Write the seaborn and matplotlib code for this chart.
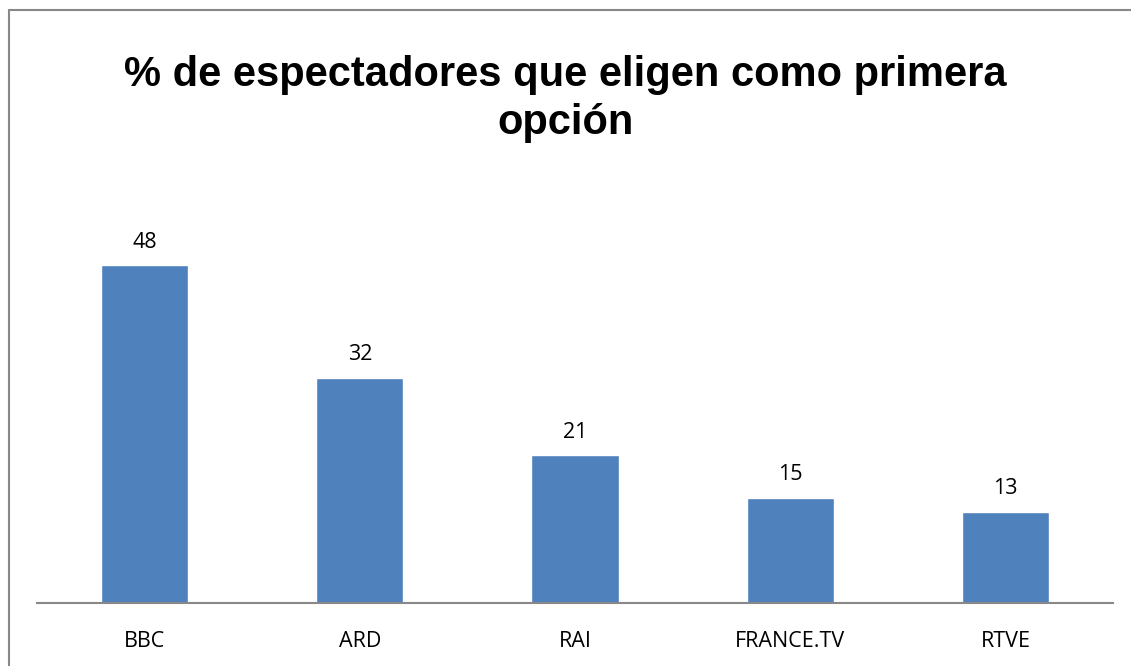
import matplotlib
matplotlib.use("Agg")
import matplotlib.pyplot as plt
import seaborn as sns
import pandas as pd
from matplotlib.lines import Line2D

categories = ["BBC", "ARD", "RAI", "FRANCE.TV", "RTVE"]
values = [48, 32, 21, 15, 13]
title = "% de espectadores que eligen como primera\nopción"

sns.set_theme(style="white")
plt.rcParams['font.family'] = ['Open Sans', 'DejaVu Sans']

df = pd.DataFrame({"canal": categories, "pct": values})

W, H = 1131, 666
fig = plt.figure(figsize=(W / 100, H / 100), dpi=100)
ax = fig.add_axes([37 / W, (H - 603) / H, (1113 - 37) / W, (603 - 181) / H])

sns.barplot(data=df, x="canal", y="pct", color="#4F81BD", saturation=1,
            width=0.405, ax=ax)
ax.set_ylim(0, 60)
ax.set_xlim(-0.5, len(categories) - 0.5)
ax.set_xlabel("")
ax.set_ylabel("")
ax.set_yticks([])
for s in ["top", "right", "left"]:
    ax.spines[s].set_visible(False)
ax.spines["bottom"].set_color("#888888")
ax.spines["bottom"].set_linewidth(1.5)
ax.tick_params(axis="x", length=0, pad=20, labelsize=15.5, labelcolor="black")

for cont in ax.containers:
    ax.bar_label(cont, labels=[str(v) for v in values], padding=9,
                 fontsize=15.5, color="black")

fig.text(0.5, 1 - 99 / H, title, ha="center", va="center", fontsize=30,
         fontweight="bold", color="black", linespacing=1.25,
         family=["Liberation Sans", "DejaVu Sans"])

# figure border (left and top only visible)
fig.add_artist(Line2D([8.5 / W, 8.5 / W], [0, 1 - 9.5 / H], color="#888888",
                      lw=1.5, transform=fig.transFigure))
fig.add_artist(Line2D([8.5 / W, 1], [1 - 9.5 / H, 1 - 9.5 / H], color="#888888",
                      lw=1.5, transform=fig.transFigure))

fig.savefig("out.png", dpi=100)
